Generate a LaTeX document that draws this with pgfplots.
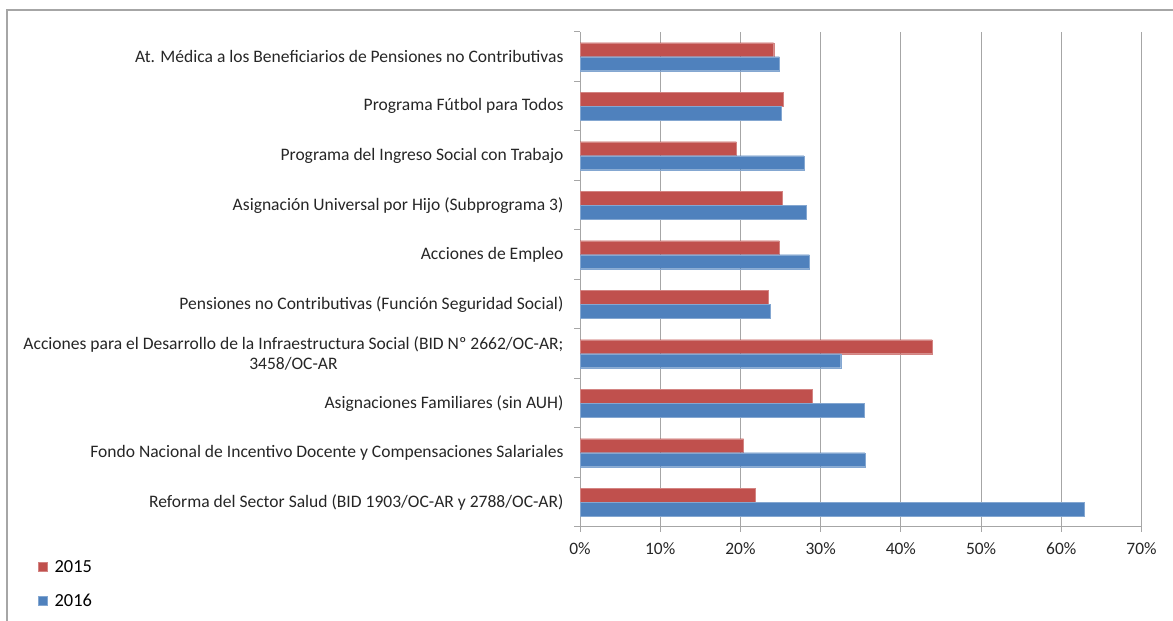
\documentclass[border=0pt]{standalone}
\usepackage{pgfplots}
\pgfplotsset{compat=1.18}
\usepackage{fontspec}
\setmainfont{Carlito}
\definecolor{cred}{HTML}{C0504D}
\definecolor{cblue}{HTML}{4F81BD}
\definecolor{cgrid}{HTML}{A6A6A6}
\begin{document}
\begin{tikzpicture}[x=1bp,y=1bp]
\useasboundingbox (0,0) rectangle (1173,621);
\draw[cgrid, line width=1.2bp] (7,-5) -- (7,611) -- (1180,611);
\begin{axis}[
  at={(580bp,94bp)}, anchor=south west,
  scale only axis, width=561.5bp, height=495bp,
  xbar, bar width=14bp,
  xmin=0, xmax=70, ymin=-0.5, ymax=9.5,
  xtick={0,10,...,70},
  xticklabel={\pgfmathprintnumber{\tick}\%},
  /pgf/number format/assume math mode=true,
  ytick={0,...,9},
  yticklabels={
    {Reforma del Sector Salud (BID 1903/OC-AR y 2788/OC-AR)},
    {Fondo Nacional de Incentivo Docente y Compensaciones Salariales},
    {Asignaciones Familiares (sin AUH)},
    {Acciones para el Desarrollo de la Infraestructura Social (BID Nº 2662/OC-AR;\\3458/OC-AR},
    {Pensiones no Contributivas (Función Seguridad Social)},
    {Acciones de Empleo},
    {Asignación Universal por Hijo (Subprograma 3)},
    {Programa del Ingreso Social con Trabajo},
    {Programa Fútbol para Todos},
    {At. Médica a los Beneficiarios de Pensiones no Contributivas}},
  yticklabel style={align=center, font=\fontsize{17.6}{20}\selectfont, text=black!85, xshift=-8bp},
  xticklabel style={font=\fontsize{17.5}{20}\selectfont, text=black!85, yshift=-7bp},
  major y tick style={draw=none},
  minor ytick={-0.5,0.5,...,9.5},
  minor tick length=6bp,
  major tick length=5bp,
  tick align=outside,
  tick style={cgrid, line width=1bp},
  axis x line*=bottom, axis y line*=left,
  axis line style={cgrid, line width=1bp},
  xmajorgrids, grid style={cgrid, line width=1bp},
  legend style={at={(axis description cs:-0.9705,-0.059)}, anchor=north west,
    draw=none, fill=none, font=\fontsize{18.5}{22}\selectfont, row sep=16bp,
    legend cell align=left},
  legend image code/.code={\fill[#1] (0bp,-4.5bp) rectangle (9bp,4.5bp);},
]
\addplot[fill=cred, draw=cred!70!white, bar shift=7bp] coordinates {
(21.9,0) (20.4,1) (29.0,2) (43.9,3) (23.5,4) (24.85,5) (25.2,6) (19.5,7) (25.3,8) (24.15,9)};
\addplot[fill=cblue, draw=cblue!70!white, bar shift=-7bp] coordinates {
(62.9,0) (35.5,1) (35.4,2) (32.5,3) (23.7,4) (28.6,5) (28.2,6) (27.9,7) (25.1,8) (24.85,9)};
\legend{{\hspace{5bp}2015},{\hspace{5bp}2016}}
\end{axis}
\end{tikzpicture}
\end{document}
